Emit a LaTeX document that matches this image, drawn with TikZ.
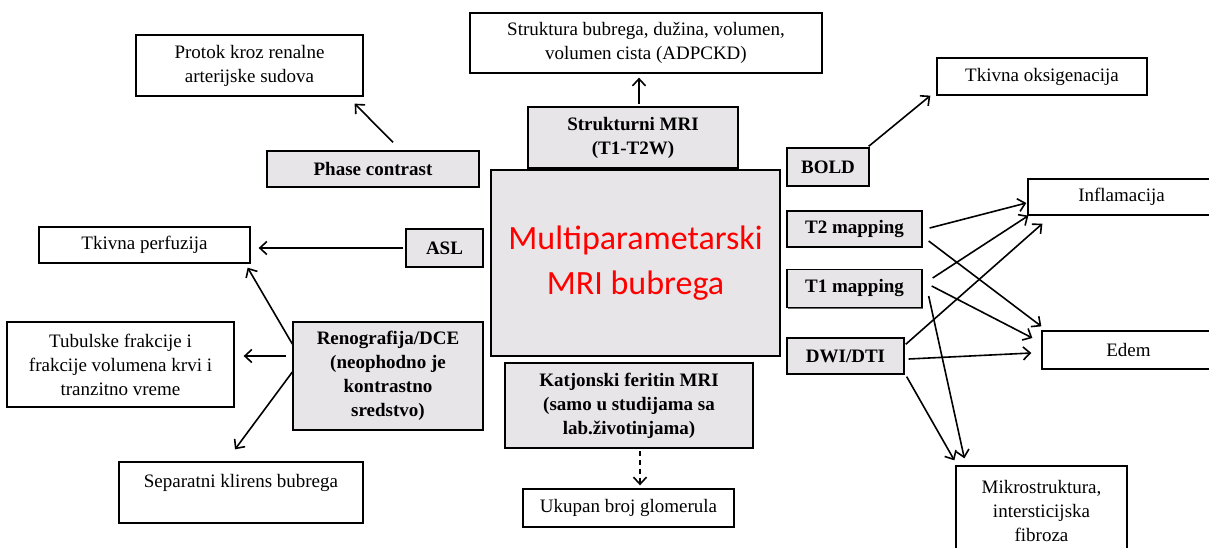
\documentclass[tikz,border=0pt]{standalone}
\usepackage{fontspec}
\setmainfont{Liberation Serif}
\newfontfamily\naslovfont{Carlito}
\usetikzlibrary{arrows.meta,shadows}

\begin{document}
\begin{tikzpicture}[x=1pt,y=-1pt,
        polje/.style={draw,line width=1.3pt,align=center,inner sep=0pt,fill=white,
            font=\fontsize{19}{24}\selectfont},
        metoda/.style={polje,fill=siva,font=\bfseries\fontsize{19}{24}\selectfont,
            drop shadow={shadow xshift=1.3pt,shadow yshift=-1.3pt,opacity=.8,fill=black!75}},
        strelica/.style={line width=1.6pt,-{Straight Barb[length=7pt,width=13pt]}}]
        %boje
        \definecolor{siva}{RGB}{231,229,231}

        % okvir slike
        \path[fill=white,use as bounding box] (0,0) rectangle (1209,548);

        % centralni blok
        \node[metoda,font=\naslovfont\fontsize{34}{45}\selectfont,text=red,
            minimum width=289pt,minimum height=186pt] (mri) at (635.5,263) {Multiparametarski\\MRI bubrega};
        \node[metoda,minimum width=210pt,minimum height=61pt] (strukturni) at (633,137.5) {Strukturni MRI\\(T1-T2W)};
        \node[metoda,minimum width=248pt,minimum height=85pt] (katjonski) at (629,405.5) {Katjonski feritin MRI\\(samo u studijama sa\\lab.životinjama)};

        % metode levo
        \node[metoda,minimum width=212pt,minimum height=36pt] (phase) at (373,169) {Phase contrast};
        \node[metoda,minimum width=77pt,minimum height=38pt] (asl) at (444.5,248) {ASL};
        \node[metoda,minimum width=190pt,minimum height=108pt] (reno) at (388,376) {Renografija/DCE\\(neophodno je\\kontrastno\\sredstvo)};

        % metode desno
        \node[metoda,minimum width=82pt,minimum height=38pt] (bold) at (828,167) {BOLD};
        \node[metoda,minimum width=135pt,minimum height=36pt] (t2) at (854.5,229) {T2 mapping};
        \node[metoda,minimum width=135pt,minimum height=38pt] (t1) at (854.5,288.5) {T1 mapping};
        \node[metoda,minimum width=117pt,minimum height=36pt] (dwi) at (845.5,356) {DWI/DTI};

        % ishodi
        \node[polje,minimum width=227pt,minimum height=61pt] (protok) at (249.5,65.5) {Protok kroz renalne\\arterijske sudova};
        \node[polje,minimum width=352pt,minimum height=60pt] (struktura) at (646,43) {Struktura bubrega, dužina, volumen,\\volumen cista (ADPCKD)};
        \node[polje,minimum width=210pt,minimum height=37pt] (oksigenacija) at (1042,76.5) {Tkivna oksigenacija};
        \node[polje,minimum width=211pt,minimum height=36pt] (perfuzija) at (144.5,245) {Tkivna perfuzija};
        \node[polje,minimum width=227pt,minimum height=85pt] (tubulske) at (120.5,364.5) {Tubulske frakcije i\\frakcije volumena krvi i\\tranzitno vreme};
        \node[polje,minimum width=244pt,minimum height=61pt] (klirens) at (241,492.5) {Separatni klirens bubrega\\\mbox{}};
        \node[polje,minimum width=211pt,minimum height=38pt] (glomeruli) at (628.5,508) {Ukupan broj glomerula};
        \node[polje,minimum width=187pt,minimum height=36pt] (inflamacija) at (1121.5,197) {Inflamacija};
        \node[polje,minimum width=173pt,minimum height=38pt] (edem) at (1128.5,350) {Edem};
        \node[polje,minimum width=171pt,minimum height=90pt] (fibroza) at (1041.5,511) {Mikrostruktura,\\intersticijska\\fibroza};

        % strelice levo i gore
        \draw[strelica] ([xshift=20pt,yshift=8pt]phase.north) -- ([xshift=-9pt,yshift=-7pt]protok.south east);
        \draw[strelica] ([xshift=6pt,yshift=2pt]strukturni.north) -- ([xshift=-7pt,yshift=-4pt]struktura.south);
        \draw[strelica] ([xshift=-2pt]asl.west) -- ([xshift=8pt,yshift=-3pt]perfuzija.east);
        \draw[strelica] ([yshift=32pt]reno.west) -- ([xshift=-3pt,yshift=-4pt]perfuzija.south east);
        \draw[strelica] ([xshift=-6pt,yshift=20pt]reno.west) -- ([xshift=9pt,yshift=8.5pt]tubulske.east);
        \draw[strelica] ([yshift=4pt]reno.west) -- ([xshift=-6pt,yshift=12pt]klirens.north);
        \draw[strelica,dashed,dash pattern=on 5pt off 4pt] ([xshift=11pt,yshift=-2pt]katjonski.south) -- ([xshift=11.5pt,yshift=3pt]glomeruli.north);

        % strelice desno
        \draw[strelica] ([xshift=-1pt,yshift=1pt]bold.north east) -- ([xshift=-6pt]oksigenacija.south west);
        \draw[strelica] ([xshift=7pt,yshift=1pt]t2.east) -- ([xshift=-1pt,yshift=-6pt]inflamacija.west);
        \draw[strelica] ([xshift=6pt,yshift=-12pt]t2.east) -- ([yshift=4pt]edem.north west);
        \draw[strelica] ([xshift=10pt,yshift=10.5pt]t1.east) -- ([xshift=1pt]inflamacija.south west);
        \draw[strelica] ([xshift=9pt,yshift=2.5pt]t1.east) -- ([xshift=-9pt,yshift=12pt]edem.west);
        \draw[strelica] ([xshift=6pt,yshift=-7.5pt]t1.east) -- ([xshift=9pt,yshift=7pt]fibroza.north west);
        \draw[strelica] ([xshift=1pt,yshift=-7pt]dwi.north east) -- ([xshift=15pt,yshift=-8pt]inflamacija.south west);
        \draw[strelica] ([xshift=4pt,yshift=-3pt]dwi.east) -- ([xshift=-10pt,yshift=-3pt]edem.west);
        \draw[strelica] ([xshift=2pt,yshift=-2pt]dwi.south east) -- ([xshift=-1pt,yshift=5pt]fibroza.north west);
    \end{tikzpicture}
\end{document}
